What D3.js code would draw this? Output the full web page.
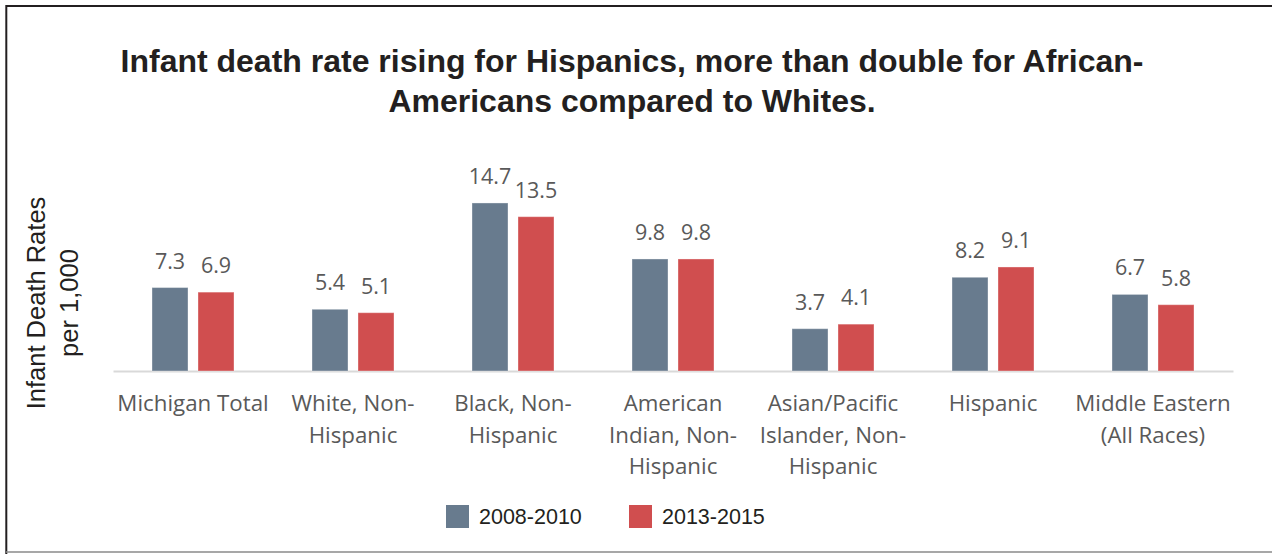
<!DOCTYPE html>
<html>
<head>
<meta charset="utf-8">
<script src="https://cdn.jsdelivr.net/npm/d3@7"></script>
<style>
  html, body { margin: 0; padding: 0; background: #fff; }
  svg { display: block; }
</style>
</head>
<body>
<svg id="chart" width="1272" height="554"></svg>
<script>
// Infant death rates per 1,000 live births, Michigan, by race/ethnicity
const categories = [
  "Michigan Total",
  "White, Non-\nHispanic",
  "Black, Non-\nHispanic",
  "American\nIndian, Non-\nHispanic",
  "Asian/Pacific\nIslander, Non-\nHispanic",
  "Hispanic",
  "Middle Eastern\n(All Races)"
];
const seriesNames = ["2008-2010", "2013-2015"];
const rates2008_2010 = [7.3, 5.4, 14.7, 9.8, 3.7, 8.2, 6.7];
const rates2013_2015 = [6.9, 5.1, 13.5, 9.8, 4.1, 9.1, 5.8];
const yDomain = [0, 16];
const titleLines = [
  "Infant death rate rising for Hispanics, more than double for African-",
  "Americans compared to Whites."
];
const yTitleLines = ["Infant Death Rates", "per 1,000"];

const colors = { "2008-2010": "#687b8e", "2013-2015": "#d04e4f" };

const rows = categories.map((c, i) => ({
  category: c,
  values: [
    { series: seriesNames[0], value: rates2008_2010[i] },
    { series: seriesNames[1], value: rates2013_2015[i] }
  ]
}));

const svg = d3.select("#chart");
const W = 1272, H = 554;

// Frame: heavy top and left rules, light bottom rule
svg.append("line").attr("x1", 6).attr("x2", W).attr("y1", 6).attr("y2", 6)
  .attr("stroke", "#231f20").attr("stroke-width", 2);
svg.append("line").attr("x1", 6.3).attr("x2", 6.3).attr("y1", 5).attr("y2", H)
  .attr("stroke", "#231f20").attr("stroke-width", 2);
svg.append("line").attr("x1", 6).attr("x2", W).attr("y1", 552).attr("y2", 552)
  .attr("stroke", "#8a8a8a").attr("stroke-width", 1.5);

// Title
svg.append("text")
  .attr("x", 632).attr("y", 72)
  .attr("text-anchor", "middle")
  .attr("font-family", "'Liberation Sans', Arial, sans-serif")
  .attr("font-weight", "bold")
  .attr("font-size", 32)
  .attr("fill", "#231f20")
  .selectAll("tspan")
  .data(titleLines)
  .join("tspan")
  .attr("x", 632)
  .attr("dy", (d, i) => i === 0 ? 0 : 40)
  .text(d => d);

// Scales
const x0 = d3.scaleBand().domain(categories).range([113, 1233]).paddingInner(0).paddingOuter(0);
const x1 = d3.scaleBand().domain(seriesNames).range([-41, 41]).paddingInner(10 / 46).paddingOuter(0);
const y = d3.scaleLinear().domain(yDomain).range([371, 371 - 11.43 * 16]);

// Category axis
const xAxis = svg.append("g")
  .attr("transform", `translate(0,${y(0)})`)
  .call(d3.axisBottom(x0).tickSize(0).tickPadding(0));
xAxis.select(".domain").attr("stroke", "#d9d9d9").attr("stroke-width", 2);
xAxis.selectAll(".tick text").each(function(d) {
  const t = d3.select(this);
  t.text(null)
    .attr("y", 0).attr("dy", null)
    .attr("font-family", "'Open Sans', sans-serif")
    .attr("font-size", 22.3)
    .attr("fill", "#595959");
  d.split("\n").forEach((line, i) => {
    t.append("tspan").attr("x", 0).attr("y", 40 + i * 31.5).text(line);
  });
});

// Bars
const groups = svg.append("g").selectAll("g")
  .data(rows)
  .join("g")
  .attr("transform", d => `translate(${x0(d.category) + x0.bandwidth() / 2},0)`);

groups.selectAll("rect")
  .data(d => d.values)
  .join("rect")
  .attr("x", d => x1(d.series))
  .attr("width", x1.bandwidth())
  .attr("y", d => y(d.value))
  .attr("height", d => y(0) - y(d.value))
  .attr("fill", d => colors[d.series])
  .attr("stroke", "rgba(255,255,255,0.35)")
  .attr("stroke-width", 1);

// Value labels
groups.selectAll("text.val")
  .data(d => d.values)
  .join("text")
  .attr("class", "val")
  .attr("x", d => x1(d.series) + x1.bandwidth() / 2)
  .attr("y", d => y(d.value) - 19)
  .attr("text-anchor", "middle")
  .attr("font-family", "'Open Sans', sans-serif")
  .attr("font-size", 21.5)
  .attr("fill", "#595959")
  .text(d => d.value.toFixed(1));

// Y-axis title
svg.append("text")
  .attr("transform", "translate(45,303) rotate(-90)")
  .attr("text-anchor", "middle")
  .attr("font-family", "'Liberation Sans', Arial, sans-serif")
  .attr("font-size", 25.5)
  .attr("fill", "#231f20")
  .selectAll("tspan")
  .data(yTitleLines)
  .join("tspan")
  .attr("x", 0)
  .attr("y", (d, i) => i * 33)
  .text(d => d);

// Legend
const legendX = [446, 629];
const legend = svg.append("g").selectAll("g")
  .data(seriesNames)
  .join("g")
  .attr("transform", (d, i) => `translate(${legendX[i]},505)`);
legend.append("rect")
  .attr("width", 23).attr("height", 23)
  .attr("fill", d => colors[d]);
legend.append("text")
  .attr("x", 33).attr("y", 18.5)
  .attr("font-family", "'Liberation Sans', Arial, sans-serif")
  .attr("font-size", 21.5)
  .attr("fill", "#231f20")
  .text(d => d);
</script>
</body>
</html>
